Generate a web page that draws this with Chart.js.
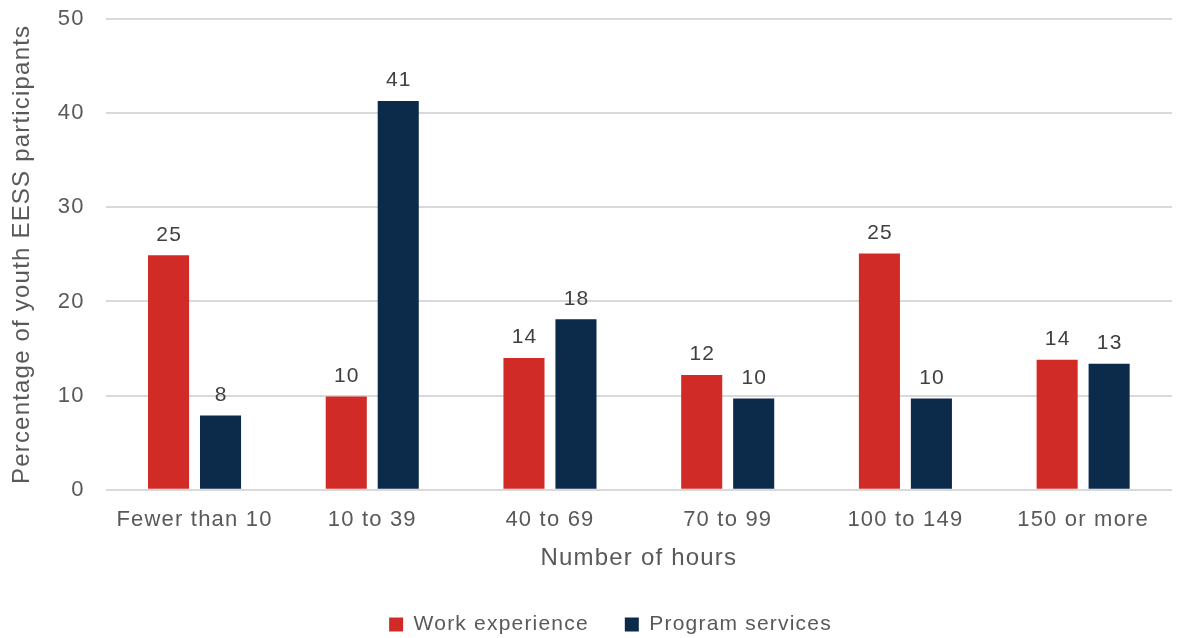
<!DOCTYPE html>
<html>
<head>
<meta charset="utf-8">
<script src="https://cdn.jsdelivr.net/npm/chart.js@4/dist/chart.umd.min.js"></script>
<style>
  html, body { margin: 0; padding: 0; background: #fff; }
  #wrap { width: 1178px; height: 638px; }
</style>
</head>
<body>
<div id="wrap"><canvas id="hoursChart"></canvas></div>
<script>
// categories and series
const hour_groups = ["Fewer than 10", "10 to 39", "40 to 69", "70 to 99", "100 to 149", "150 or more"];
const work_experience = [24.9, 9.9, 14.0, 12.2, 25.1, 13.8];
const program_services = [7.9, 41.3, 18.1, 9.7, 9.7, 13.4];
const y_ticks = [0, 10, 20, 30, 40, 50];

const fontName = "'Liberation Sans', Arial, sans-serif";

// the original text is set a little wide, so space the letters out
const wideText = {
  id: "wideText",
  beforeUpdate(chart) { chart.ctx.letterSpacing = "1.2px"; },
  beforeDraw(chart) { chart.ctx.letterSpacing = "1.2px"; },
};

// legend in the original sits a bit right of centre
const legendNudge = {
  id: "legendNudge",
  afterLayout(chart) {
    chart.legend.left += 22;
    chart.legend.right += 22;
  },
};

// labels over each bar, rounded like the original
const valueLabels = {
  id: "valueLabels",
  afterDatasetsDraw(chart) {
    const ctx = chart.ctx;
    ctx.save();
    ctx.font = "21px " + fontName;
    ctx.fillStyle = "#404040";
    ctx.textAlign = "center";
    ctx.textBaseline = "bottom";
    chart.data.datasets.forEach((ds, i) => {
      chart.getDatasetMeta(i).data.forEach((bar, j) => {
        ctx.fillText(Math.round(ds.data[j]), bar.x + 0.6, bar.y - 10);
      });
    });
    ctx.restore();
  },
};

let ctx = document.getElementById("hoursChart").getContext("2d");
let hoursChart = new Chart(ctx, {
  type: "bar",
  data: {
    labels: hour_groups,
    datasets: [
      {
        label: "Work experience",
        data: work_experience,
        backgroundColor: "#d02b27",
      },
      {
        label: "Program services",
        data: program_services,
        backgroundColor: "#0c2a4a",
      },
    ],
  },
  options: {
    responsive: true,
    maintainAspectRatio: false,
    animation: false,
    categoryPercentage: 0.585,
    barPercentage: 0.79,
    layout: { padding: { top: 19, right: 6, left: 5, bottom: -7 } },
    plugins: {
      tooltip: { enabled: false },
      legend: {
        position: "bottom",
        labels: {
          font: { family: fontName, size: 21 },
          color: "#595959",
          boxWidth: 14,
          boxHeight: 14,
          padding: 36,
        },
      },
    },
    scales: {
      x: {
        grid: { display: false },
        border: { display: false },
        ticks: { font: { family: fontName, size: 22 }, color: "#595959", padding: 9 },
        title: {
          display: true,
          text: "Number of hours",
          font: { family: fontName, size: 24 },
          color: "#595959",
          padding: { top: 2, bottom: 5 },
        },
      },
      y: {
        min: 0,
        max: 50,
        afterBuildTicks: (axis) => {
          axis.ticks = y_ticks.map((v) => ({ value: v }));
        },
        afterFit: (axis) => {
          axis.paddingTop = 0;
        },
        grid: { color: "#d9d9d9", lineWidth: 2, drawTicks: false },
        border: { display: false },
        ticks: { font: { family: fontName, size: 22 }, color: "#595959", padding: 21 },
        title: {
          display: true,
          text: "Percentage of youth EESS participants",
          font: { family: fontName, size: 24 },
          color: "#595959",
          padding: { top: 3, bottom: 0 },
        },
      },
    },
  },
  plugins: [wideText, legendNudge, valueLabels],
});
</script>
</body>
</html>
